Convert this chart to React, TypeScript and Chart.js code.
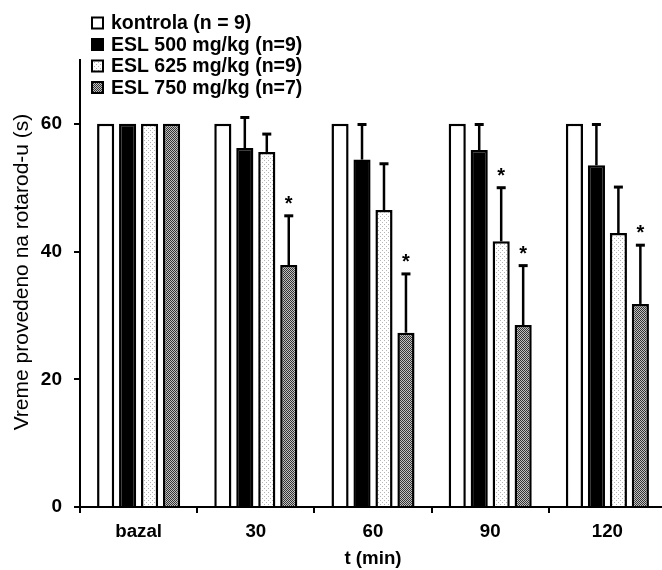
import React, { useEffect, useRef } from 'react';
import { Chart, registerables } from 'chart.js';

Chart.register(...registerables);

const categories = ['bazal', '30', '60', '90', '120'];
const seriesLabels = ['kontrola (n = 9)', 'ESL 500 mg/kg (n=9)', 'ESL 625 mg/kg (n=9)', 'ESL 750 mg/kg (n=7)'];
const yTitle = 'Vreme provedeno na rotarod-u (s)';
const xTitle = 't (min)';

const kontrola = [60, 60, 60, 60, 60];
const esl500 = [60, 56.2, 54.4, 55.9, 53.5];
const esl625 = [60, 55.6, 46.5, 41.6, 42.9];
const esl750 = [60, 37.9, 27.3, 28.5, 31.8];

const kontrolaErr = [0, 0, 0, 0, 0];
const esl500Err = [0, 4.8, 5.5, 4.0, 6.4];
const esl625Err = [0, 2.8, 7.25, 8.4, 7.2];
const esl750Err = [0, 7.7, 9.2, 9.3, 9.2];

const kontrolaSig = [false, false, false, false, false];
const esl500Sig = [false, false, false, false, false];
const esl625Sig = [false, false, false, true, false];
const esl750Sig = [false, true, true, true, true];

const yTicks = [0, 20, 40, 60];
const yMin = 0;
const yMax = 70;

const FONT = "'Liberation Sans', Arial, Helvetica, sans-serif";

function makePattern(kind: 'light' | 'hatch'): CanvasPattern | string {
  const c = document.createElement('canvas');
  c.width = 4;
  c.height = 4;
  const g = c.getContext('2d');
  if (!g) return '#ccc';
  if (kind === 'light') {
    g.fillStyle = '#ffffff';
    g.fillRect(0, 0, 4, 4);
    g.fillStyle = '#b4b4b4';
    g.fillRect(0, 0, 1, 1);
    g.fillRect(2, 2, 1, 1);
  } else {
    for (let x = 0; x < 4; x++) {
      for (let y = 0; y < 4; y++) {
        g.fillStyle = (x + y) % 2 === 0 ? '#333333' : '#c0c0c0';
        g.fillRect(x, y, 1, 1);
      }
    }
  }
  const p = g.createPattern(c, 'repeat');
  return p || '#ccc';
}

export default function App() {
  const ref = useRef<HTMLCanvasElement | null>(null);

  useEffect(() => {
    if (!ref.current) return;
    const lightPat = makePattern('light');
    const hatchPat = makePattern('hatch');
    const fills: any[] = ['#ffffff', '#000000', lightPat, hatchPat];
    const errs = [kontrolaErr, esl500Err, esl625Err, esl750Err];
    const sigs = [kontrolaSig, esl500Sig, esl625Sig, esl750Sig];
    const values = [kontrola, esl500, esl625, esl750];

    const errPlugin = {
      id: 'errbars',
      afterDatasetsDraw(chart: any) {
        const ctx = chart.ctx;
        const ys = chart.scales.y;
        ctx.save();
        chart.data.datasets.forEach((ds: any, di: number) => {
          const meta = chart.getDatasetMeta(di);
          meta.data.forEach((bar: any, i: number) => {
            const v = ds.data[i];
            const e = errs[di][i];
            let topY = bar.y;
            if (e > 0) {
              topY = ys.getPixelForValue(v + e);
              ctx.strokeStyle = '#000';
              ctx.lineWidth = 2.5;
              ctx.beginPath();
              ctx.moveTo(bar.x, bar.y);
              ctx.lineTo(bar.x, topY);
              ctx.stroke();
              ctx.lineWidth = 3;
              ctx.beginPath();
              ctx.moveTo(bar.x - 4.5, topY);
              ctx.lineTo(bar.x + 4.5, topY);
              ctx.stroke();
            }
            if (sigs[di][i]) {
              ctx.fillStyle = '#000';
              ctx.font = `bold 20px ${FONT}`;
              ctx.textAlign = 'center';
              ctx.textBaseline = 'alphabetic';
              ctx.fillText('*', bar.x, topY - 6);
            }
          });
        });
        ctx.restore();
      },
    };

    const legendPlugin = {
      id: 'customLegend',
      afterDraw(chart: any) {
        const ctx = chart.ctx;
        ctx.save();
        const rows = [23, 44.5, 66, 87.5];
        seriesLabels.forEach((lab, i) => {
          const cy = rows[i];
          ctx.fillStyle = fills[i];
          ctx.fillRect(92, cy - 5.5, 11, 11);
          ctx.strokeStyle = '#000';
          ctx.lineWidth = 2;
          ctx.strokeRect(92, cy - 5.5, 11, 11);
          ctx.fillStyle = '#000';
          ctx.font = `bold 19.5px ${FONT}`;
          ctx.textAlign = 'left';
          ctx.textBaseline = 'middle';
          ctx.fillText(lab, 111, cy + 1);
        });
        // y-axis title
        ctx.translate(22, 272);
        ctx.rotate(-Math.PI / 2);
        ctx.font = `21px ${FONT}`;
        ctx.textAlign = 'center';
        ctx.textBaseline = 'middle';
        ctx.fillStyle = '#000';
        ctx.fillText(yTitle, 0, 0);
        ctx.restore();
      },
    };

    const chart = new Chart(ref.current, {
      type: 'bar',
      data: {
        labels: categories,
        datasets: values.map((vals, i) => ({
          label: seriesLabels[i],
          data: vals,
          backgroundColor: fills[i],
          borderColor: '#000',
          borderWidth: 2.5,
          barPercentage: 0.78,
          categoryPercentage: 0.75,
        })),
      },
      options: {
        animation: false,
        responsive: false,
        devicePixelRatio: 1,
        layout: { padding: { top: 60, right: 4, bottom: 0, left: 0 } },
        plugins: {
          legend: { display: false },
          tooltip: { enabled: false },
        },
        scales: {
          x: {
            afterFit: (s: any) => {
              s.height = 63;
            },
            border: { color: '#000', width: 2 },
            grid: { drawOnChartArea: false, color: '#000', lineWidth: 2, tickLength: 6 },
            ticks: { color: '#000', font: { family: FONT, size: 18.7, weight: 'bold' }, padding: 8 },
            title: {
              display: true,
              text: xTitle,
              color: '#000',
              font: { family: FONT, size: 18.7, weight: 'bold' },
              padding: { top: 0, bottom: 0 },
            },
          },
          y: {
            min: yMin,
            max: yMax,
            afterBuildTicks: (s: any) => {
              s.ticks = yTicks.map((v) => ({ value: v }));
            },
            afterFit: (s: any) => {
              s.width = 80;
            },
            border: { color: '#000', width: 2 },
            grid: { drawOnChartArea: false, color: '#000', lineWidth: 2, tickLength: 6 },
            ticks: { color: '#000', font: { family: FONT, size: 19, weight: 'bold' }, padding: 12 },
            title: { display: false },
          },
        },
      },
      plugins: [errPlugin, legendPlugin],
    } as any);

    return () => chart.destroy();
  }, []);

  return (
    <div
      style={{
        position: 'fixed',
        left: 0,
        top: 0,
        width: 662,
        height: 570,
        overflow: 'hidden',
        background: '#fff',
      }}
    >
      <canvas ref={ref} width={670} height={570} style={{ display: 'block', width: 670, height: 570 }} />
    </div>
  );
}
